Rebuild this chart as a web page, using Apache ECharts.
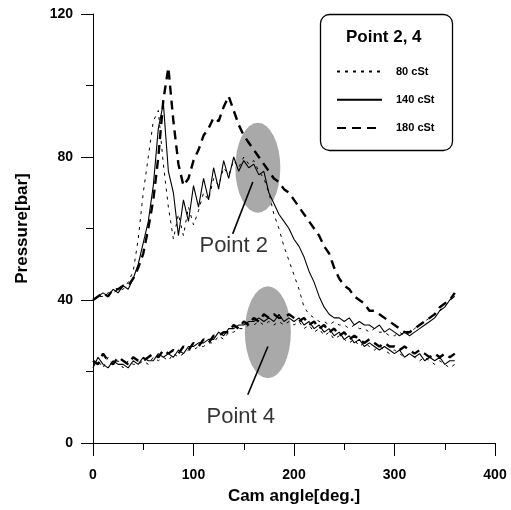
<!DOCTYPE html>
<html>
<head>
<meta charset="utf-8">
<script src="https://cdn.jsdelivr.net/npm/echarts@6/dist/echarts.min.js"></script>
<style>html,body{margin:0;padding:0;background:#fff;}#c{width:511px;height:510px;}</style>
</head>
<body>
<div id="c"></div>
<script>
// Cam angle samples (deg)
var angles = [0,5,10,15,20,25,30,35,40,45,50,55,60,65,70,75,80,85,90,95,100,105,110,115,120,125,130,135,140,145,150,155,160,165,170,175,180,185,190,195,200,205,210,215,220,225,230,235,240,245,250,255,260,265,270,275,280,285,290,295,300,305,310,315,320,325,330,335,340,345,350,355,360];

// Point 2 pressure (bar)
var p2_80 = [40,41,41,42,42,43,43,45,48,57,70,80,90,93,78,66,57,64,58,66,61,65,70,68,74,72,77,75,79,77,80,78,79,76,74,70,64,60,55,51,47,43,38,36,35,34,34,33,34,33,33,32,33,32,32,31,32,31,31,30,30,31,30,31,32,33,34,35,36,37,39,40,41];
var p2_140 = [40,41,42,41,43,42,44,43,46,50,56,62,72,88,95,76,70,58,68,62,72,66,74,68,77,71,79,74,80,76,79,77,78,75,76,70,67,64,62,60,57,55,52,48,45,41,38,36,35,35,34,35,33,34,33,33,32,33,31,32,31,30,31,30,31,32,33,34,35,37,38,40,41];
var p2_180 = [40,41,42,41,43,43,44,44,46,49,53,60,68,80,96,105,90,78,72,74,79,82,86,88,91,90,94,97,93,89,86,84,82,80,78,76,74,73,71,70,68,66,64,62,60,58,55,53,49,46,44,43,41,40,39,37,37,36,35,34,33,32,31,31,32,33,34,35,36,38,39,40,42];

// Point 4 pressure (bar)
var p4_80 = [22,23,21,24,22,23,21,23,22,22,23,22,24,23,24,23,25,24,25,26,26,27,27,28,28,30,29,31,31,32,32,33,33,34,33,34,33,34,33,34,33,34,32,33,31,32,30,31,29,30,29,28,29,27,28,27,26,27,26,25,26,25,24,25,24,23,24,23,22,23,22,21,22];
var p4_140 = [21,24,22,21,23,22,22,21,23,22,24,23,23,25,24,25,24,26,25,27,27,28,28,29,29,31,30,32,32,33,33,34,34,35,34,35,34,36,34,35,34,35,33,34,32,33,31,32,30,31,29,30,28,29,27,28,27,26,27,26,25,26,24,25,24,25,23,24,23,24,22,23,23];
var p4_180 = [23,22,25,23,22,24,23,22,24,23,23,24,25,24,26,25,26,25,27,26,28,27,29,28,30,30,31,31,33,32,34,33,35,34,36,35,36,35,35,36,35,34,35,33,34,32,33,31,32,30,31,29,30,29,28,29,28,27,28,27,27,26,27,26,25,26,25,24,25,24,25,24,25];

var yTicks = [0,40,80,120];
var xTicks = [0,100,200,300,400];
var seriesNames = ['80 cSt','140 cSt','180 cSt'];

function pairs(ys){ return angles.map(function(a,i){ return [a, ys[i]]; }); }

var FONT = 'Liberation Sans, Arial, sans-serif';
var styles = {
  '80 cSt': {color:'#000', width:1, type:[3,5]},
  '140 cSt': {color:'#000', width:1.1, type:'solid'},
  '180 cSt': {color:'#000', width:2.4, type:[9,6]}
};

function lineSeries(name, ys){
  return {
    name: name, type:'line', data: pairs(ys), symbol:'none', showSymbol:false,
    lineStyle: styles[name], itemStyle:{color:'#000'}, z:3, silent:true
  };
}

var chart = echarts.init(document.getElementById('c'), null, {renderer:'canvas'});
chart.setOption({
  animation:false,
  backgroundColor:'#fff',
  grid:{left:93, right:16, top:14, bottom:66, containLabel:false},
  xAxis:{
    type:'value', min:0, max:400, interval:100,
    name:'Cam angle[deg.]', nameLocation:'middle', nameGap:45,
    nameTextStyle:{fontFamily:FONT, fontWeight:'bold', fontSize:17, color:'#000'},
    axisLine:{show:true, onZero:false, lineStyle:{color:'#000', width:1}},
    axisTick:{show:true, length:13, lineStyle:{color:'#000'}},
    minorTick:{show:true, splitNumber:2, length:7, lineStyle:{color:'#000'}},
    splitLine:{show:false},
    axisLabel:{fontFamily:FONT, fontWeight:'bold', fontSize:14, color:'#000', margin:25,
      formatter:function(v){ return xTicks.indexOf(v)>=0 ? String(v) : ''; }}
  },
  yAxis:{
    type:'value', min:0, max:120, interval:40,
    name:'Pressure[bar]', nameLocation:'middle', nameGap:62, nameRotate:90,
    nameTextStyle:{fontFamily:FONT, fontWeight:'bold', fontSize:17, color:'#000'},
    axisLine:{show:true, onZero:false, lineStyle:{color:'#000', width:1}},
    axisTick:{show:true, length:12, lineStyle:{color:'#000'}},
    minorTick:{show:true, splitNumber:2, length:7, lineStyle:{color:'#000'}},
    splitLine:{show:false},
    axisLabel:{fontFamily:FONT, fontWeight:'bold', fontSize:14, color:'#000', margin:20,
      formatter:function(v){ return yTicks.indexOf(v)>=0 ? String(v) : ''; }}
  },
  legend:{
    data:seriesNames, orient:'vertical', left:331, top:61,
    itemWidth:45, itemHeight:14, itemGap:17,
    itemStyle:{opacity:0},
    textStyle:{fontFamily:FONT, fontWeight:'bold', fontSize:11, color:'#000', padding:[0,0,0,9]},
    selectedMode:false
  },
  graphic:[
    {type:'rect', left:318, top:12, shape:{width:132, height:136, r:9}, z:10,
      style:{fill:'none', stroke:'#000', lineWidth:1.3}},
    {type:'text', left:346, top:29, z:10,
      style:{text:'Point 2, 4', fontFamily:FONT, fontWeight:'bold', fontSize:17, fill:'#000'}}
  ],
  series:[
    {
      name:'shade', type:'scatter', symbol:'circle', z:1, silent:true,
      data:[{value:[164,77], symbolSize:[45,90]},{value:[174,31], symbolSize:[46,92]}],
      itemStyle:{color:'#9a9a9a', opacity:0.85},
      markLine:{
        silent:true, symbol:['none','arrow'], symbolSize:[0,11],
        lineStyle:{color:'#000', width:1.6, type:'solid'}, label:{show:false},
        data:[
          [{coord:[139,58.5]},{coord:[159,73]}],
          [{coord:[154,13.5]},{coord:[174,27]}]
        ]
      }
    },
    {
      name:'notes', type:'scatter', symbolSize:1, z:5, silent:true,
      itemStyle:{color:'rgba(0,0,0,0)'},
      label:{show:true, position:'inside', formatter:'{b}', fontFamily:FONT, fontSize:22, color:'#000'},
      data:[{name:'Point 2', value:[140,55]},{name:'Point 4', value:[147,7.3]}]
    },
    lineSeries('80 cSt', p2_80),
    lineSeries('140 cSt', p2_140),
    lineSeries('180 cSt', p2_180),
    lineSeries('80 cSt', p4_80),
    lineSeries('140 cSt', p4_140),
    lineSeries('180 cSt', p4_180)
  ]
});
</script>
</body>
</html>
